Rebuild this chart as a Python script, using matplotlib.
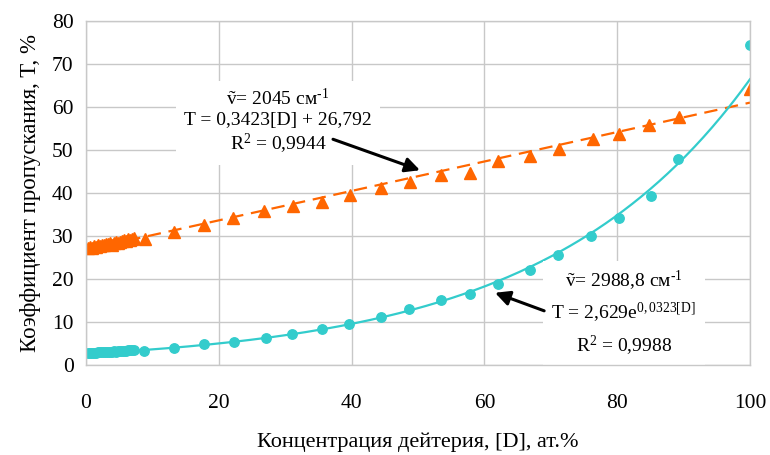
import matplotlib
matplotlib.use("Agg")
import matplotlib.pyplot as plt
import numpy as np

plt.rcParams['font.family'] = ['Liberation Serif', 'DejaVu Serif']
plt.rcParams['mathtext.fontset'] = 'custom'
plt.rcParams['mathtext.rm'] = 'Liberation Serif'
plt.rcParams['mathtext.it'] = 'Liberation Serif:italic'

# Data: concentration of deuterium [D], at.%
x_orange = [0.3, 0.6, 0.9, 1.2, 1.5, 1.8, 2.1, 2.4, 2.7, 3.0, 3.3, 3.6, 3.9, 4.2,
            4.5, 4.8, 5.1, 5.4, 5.7, 6.0, 6.3, 6.6, 6.9, 7.2,
            8.9, 13.3, 17.8, 22.2, 26.8, 31.1, 35.5, 39.7, 44.4, 48.8, 53.5,
            57.8, 62.0, 66.9, 71.3, 76.3, 80.3, 84.8, 89.3, 100.0]
t_orange = [27.2, 27.4, 27.3, 27.6, 27.5, 27.8, 27.7, 28.0, 27.9, 28.2, 28.1, 28.4,
            28.0, 28.3, 28.5, 28.3, 28.7, 28.9, 29.0, 28.8, 29.2, 29.1, 29.4, 29.5,
            29.2, 31.0, 32.5, 34.1, 35.8, 36.9, 38.0, 39.6, 41.1, 42.5, 44.1,
            44.7, 47.4, 48.7, 50.3, 52.5, 53.8, 55.8, 57.6, 64.2]

x_cyan = [0.3, 0.6, 0.9, 1.2, 1.5, 1.8, 2.1, 2.4, 2.7, 3.0, 3.3, 3.6, 3.9, 4.2,
          4.5, 4.8, 5.1, 5.4, 5.7, 6.0, 6.3, 6.6, 6.9, 7.2,
          8.8, 13.3, 17.8, 22.3, 27.1, 31.0, 35.5, 39.6, 44.4, 48.7, 53.5,
          57.8, 62.1, 66.9, 71.1, 76.1, 80.3, 85.1, 89.1, 100.0]
t_cyan = [2.8, 2.8, 2.9, 2.9, 2.9, 3.0, 3.0, 3.0, 3.0, 3.1, 3.1, 3.1, 3.1, 3.2,
          3.1, 3.2, 3.3, 3.3, 3.3, 3.3, 3.4, 3.4, 3.4, 3.4,
          3.2, 4.0, 4.8, 5.4, 6.2, 7.1, 8.3, 9.5, 11.2, 13.0, 15.1,
          16.5, 18.9, 22.1, 25.6, 30.1, 34.1, 39.3, 48.0, 74.4]

# fitted trend parameters
lin_a, lin_b = 0.3423, 26.792
exp_a, exp_b = 2.629, 0.0323

x_ticks = [0, 20, 40, 60, 80, 100]
y_ticks = [0, 10, 20, 30, 40, 50, 60, 70, 80]

orange = '#FF6600'
cyan = '#33CCCC'
grid_c = '#C8C8C8'

fig = plt.figure(figsize=(7.7, 4.55), dpi=100)
ax = fig.add_axes([0.1117, 0.1978, 0.8623, 0.7560])

xf = np.linspace(0, 100, 300)
ax.plot(xf, lin_a * xf + lin_b, color=orange, lw=1.6, ls=(0, (6, 3.5)), zorder=3)
ax.plot(xf, exp_a * np.exp(exp_b * xf), color=cyan, lw=1.6, zorder=3)

ax.plot(x_orange, t_orange, ls='none', marker='^', ms=8, color=orange, mec=orange, zorder=4)
ax.plot(x_cyan, t_cyan, ls='none', marker='o', ms=6.8, color=cyan, mec=cyan, zorder=4)

ax.set_xlim(0, 100)
ax.set_ylim(0, 80)
ax.set_xticks(x_ticks)
ax.set_yticks(y_ticks)
ax.grid(True, color=grid_c, lw=1.0)
ax.set_axisbelow(True)
for s in ax.spines.values():
    s.set_color(grid_c)
    s.set_linewidth(1.0)
    s.set_zorder(7)
ax.tick_params(length=0, labelsize=15.5, colors='black')
ax.tick_params(axis='x', pad=21)
ax.tick_params(axis='y', pad=9)

ax.set_xlabel('Концентрация дейтерия, [D], ат.%', fontsize=16, labelpad=14)
ax.set_ylabel('Коэффициент пропускания, T, %', fontsize=16.5, labelpad=8)

fs = 14
box = dict(facecolor='white', edgecolor='none', pad=6)

ax.text(28.9, 56.5,
        'ṽ= 2045 см$^{\\mathrm{\u2010}1}$\nT = 0,3423[D] + 26,792\nR$^{\\mathrm{2}}$ = 0,9944',
        ha='center', va='center', fontsize=fs, linespacing=1.2, bbox=box, zorder=5)

ax.text(81.0, 12.0,
        'ṽ= 2988,8 см$^{\\mathrm{\u2010}1}$\nT = 2,629e$^{\\mathrm{0,0323[D]}}$\nR$^{\\mathrm{2}}$ = 0,9988',
        ha='center', va='center', fontsize=fs, linespacing=1.45, bbox=box, zorder=5)

arrow = dict(arrowstyle='-|>', color='black', lw=2.2, mutation_scale=22, shrinkA=0, shrinkB=0)
ax.annotate('', xy=(50.3, 45.3), xytext=(37.2, 52.5), arrowprops=arrow, zorder=6)
ax.annotate('', xy=(61.6, 16.8), xytext=(69.0, 12.6), arrowprops=arrow, zorder=6)

fig.savefig('out.png', dpi=100)
